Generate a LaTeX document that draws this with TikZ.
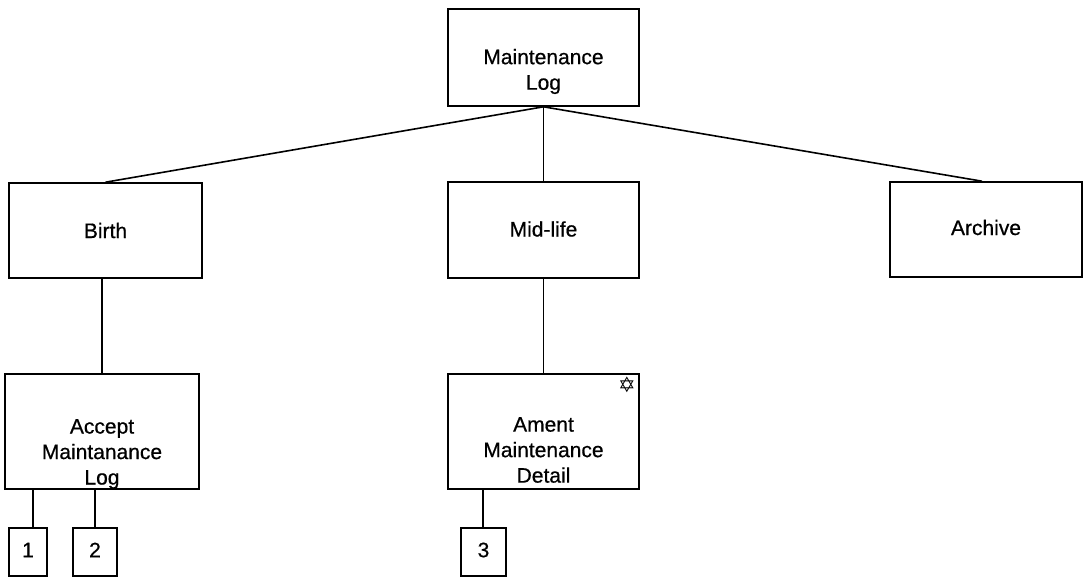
\documentclass[tikz,border=0pt]{standalone}
\usepackage{fontspec}
\setmainfont[FakeBold=0.6]{Liberation Sans}
\newfontfamily\symfont{DejaVu Sans}
\usetikzlibrary{calc}
\begin{document}
\begin{tikzpicture}[x=1pt,y=-1pt,
  box/.style={draw,line width=1.6pt,rectangle,inner sep=0pt},
  lbl/.style={align=center,inner sep=0pt,font=\fontsize{21}{25.5}\selectfont},
  conn/.style={line width=1.6pt}]
\useasboundingbox[fill=white] (0,0) rectangle (1086,578);
% boxes
\node[box,minimum width=191pt,minimum height=97pt] (top) at (543.5,57.5) {};
\node[box,minimum width=193pt,minimum height=95pt] (birth) at (105.5,230.5) {};
\node[box,minimum width=191pt,minimum height=96pt] (mid) at (543.5,230) {};
\node[box,minimum width=192pt,minimum height=95pt] (arch) at (986,229.5) {};
\node[box,minimum width=194pt,minimum height=115pt] (acc) at (102,431.5) {};
\node[box,minimum width=191pt,minimum height=115pt] (ament) at (543.5,431.5) {};
\node[box,minimum width=38pt,minimum height=48pt] (b1) at (28,552) {};
\node[box,minimum width=44pt,minimum height=48pt] (b2) at (95,552) {};
\node[box,minimum width=45pt,minimum height=48pt] (b3) at (483.5,552) {};
% labels
\node[lbl] (ttop) at ($(top.center)+(0,14)$) {Maintenance\\Log};
\node[lbl] (tbirth) at (birth.center) {Birth};
\node[lbl] (tmid) at ($(mid.center)+(0,-1)$) {Mid-life};
\node[lbl] (tarch) at ($(arch.center)+(0,-2)$) {Archive};
\node[lbl] (tacc) at ($(acc.center)+(0,22.5)$) {Accept\\Maintanance\\Log};
\node[lbl] (tament) at ($(ament.center)+(0,18.5)$) {Ament\\Maintenance\\Detail};
\node[lbl] (t1) at ($(b1.center)+(0,-2)$) {1};
\node[lbl] (t2) at ($(b2.center)+(0,-2)$) {2};
\node[lbl] (t3) at ($(b3.center)+(0,-2)$) {3};
\node[inner sep=0pt,font=\symfont\fontsize{21}{21}\selectfont] (star) at (627,385) {✡};
% connectors
\draw[conn] (top.south) -- (birth.north);
\draw[conn] (top.south) -- (mid.north);
\draw[conn] (top.south) -- ($(arch.north)+(-4,0)$);
\draw[conn] (acc.north) -- (acc.north |- birth.south);
\draw[conn] (ament.north) -- (ament.north |- mid.south);
\coordinate (c1) at ($(b1.north)+(5,0)$);
\draw[conn] (c1) -- (c1 |- acc.south);
\draw[conn] (b2.north) -- (b2.north |- acc.south);
\coordinate (c3) at ($(b3.north)+(-0.5,0)$);
\draw[conn] (c3) -- (c3 |- ament.south);
\end{tikzpicture}
\end{document}
